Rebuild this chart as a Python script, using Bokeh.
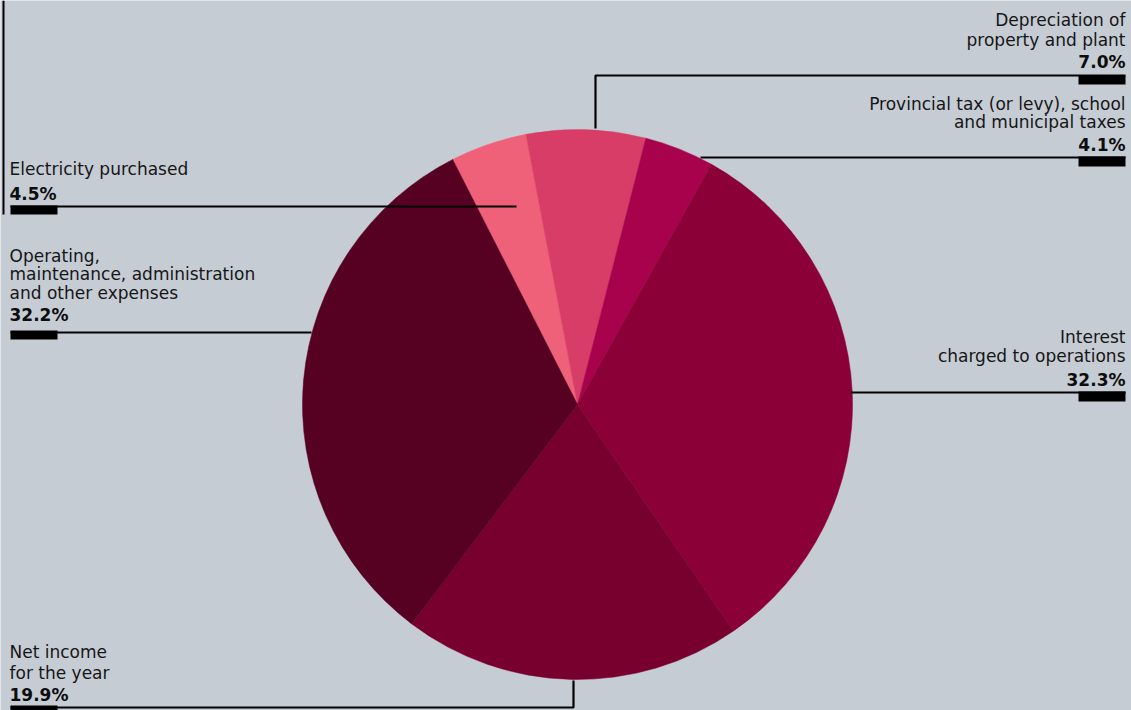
import math
from bokeh.plotting import figure
from bokeh.models import Range1d
from bokeh.core.properties import value
from bokeh.embed import file_html
from bokeh.resources import INLINE

# ---- data ----
categories = ["Electricity purchased", "Depreciation of property and plant",
              "Provincial tax (or levy), school and municipal taxes",
              "Interest charged to operations", "Net income for the year",
              "Operating, maintenance, administration and other expenses"]
shares = [4.5, 7.0, 4.1, 32.3, 19.9, 32.2]
colors = ["#ef6178", "#d83d67", "#a9024c", "#8b0036", "#78002f", "#560022"]
label_lines = [
    ["Electricity purchased"],
    ["Depreciation of", "property and plant"],
    ["Provincial tax (or levy), school", "and municipal taxes"],
    ["Interest", "charged to operations"],
    ["Net income", "for the year"],
    ["Operating,", "maintenance, administration", "and other expenses"],
]
pct_labels = ["%.1f%%" % s for s in shares]

W, H = 1131, 710
BG = "#c6ccd4"
FONT = "DejaVu Sans"

def Y(y):
    return H - y

p = figure(width=W, height=H, x_range=Range1d(0, W), y_range=Range1d(0, H),
           output_backend="svg", toolbar_location=None, min_border=0)
p.axis.visible = False
p.grid.visible = False
p.outline_line_color = None
p.background_fill_color = BG
p.border_fill_color = BG

# ---- pie ----
cx, cy, R = 577, 404, 275
start_deg = 117.0  # math angle of first boundary (clockwise drawing)
starts, ends = [], []
a = start_deg
for s in shares:
    starts.append(math.radians(a))
    a -= s * 3.6
    ends.append(math.radians(a))
p.wedge(x=[cx] * len(shares), y=[Y(cy)] * len(shares), radius=R,
        start_angle=starts, end_angle=ends, direction="clock",
        fill_color=colors, line_color=colors, line_width=0.5)

# ---- leader lines ----
lw = 2.2
leaders = [
    [(10, 206), (516, 206)],                       # electricity
    [(595, 128), (595, 75), (1125, 75)],           # depreciation
    [(700, 157), (1125, 157)],                     # provincial
    [(850, 392), (1125, 392)],                     # interest
    [(573, 680), (573, 707), (10, 707)],           # net income
    [(10, 332), (311, 332)],                       # operating
]
p.multi_line(xs=[[pt[0] for pt in seg] for seg in leaders],
             ys=[[Y(pt[1]) for pt in seg] for seg in leaders],
             line_color="black", line_width=lw)
# left edge vertical rule
p.line(x=[3, 3], y=[Y(0), Y(214)], line_color="black", line_width=2)

# thick marker bars
bars = [(10, 57, 205, 214), (1078, 1125, 75, 84), (1078, 1125, 156, 166),
        (1078, 1125, 391, 401), (10, 57, 705, 714), (10, 57, 330, 339)]
p.quad(left=[b[0] for b in bars], right=[b[1] for b in bars],
       top=[Y(b[2]) for b in bars], bottom=[Y(b[3]) for b in bars],
       fill_color="black", line_color=None)

# ---- labels ----
# (x, first baseline, line step, pct baseline, align)
label_pos = [
    (9, 168, 18.5, 193, "left"),
    (1125, 19, 20, 61, "right"),
    (1125, 103, 18.5, 144, "right"),
    (1125, 336, 19.5, 379, "right"),
    (9, 651, 21.5, 694, "left"),
    (9, 255, 18.5, 314, "left"),
]
for lines, pct, (lx, b0, step, pb, al) in zip(label_lines, pct_labels, label_pos):
    ys = [Y(b0 + i * step) for i in range(len(lines))]
    p.text(x=[lx] * len(lines), y=ys, text=lines, text_align=al,
           text_baseline="alphabetic", text_font=value(FONT),
           text_font_size="17px", text_color="#161616")
    p.text(x=[lx], y=[Y(pb)], text=[pct], text_align=al,
           text_baseline="alphabetic", text_font=value(FONT),
           text_font_size="17px", text_font_style="bold", text_color="#0d0d0d")

open("out.html", "w").write(file_html(p, INLINE))
